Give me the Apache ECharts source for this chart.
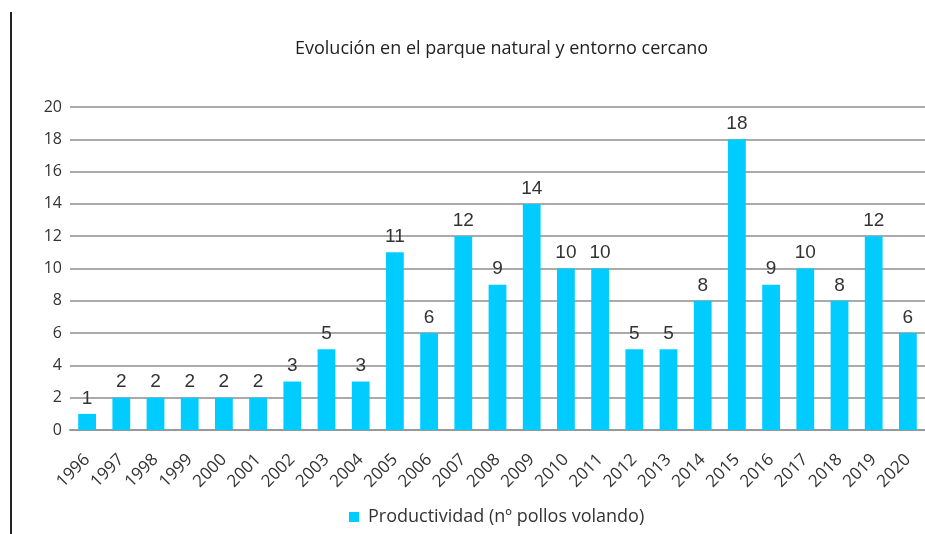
<!DOCTYPE html>
<html>
<head>
<meta charset="utf-8">
<script src="https://cdn.jsdelivr.net/npm/echarts@6/dist/echarts.min.js"></script>
<style>
  html, body { margin: 0; padding: 0; background: #fff; }
  #frame { position: absolute; left: 10px; top: 12px; width: 2px; height: 522px; background: #222; }
  #chart { width: 925px; height: 534px; }
</style>
</head>
<body>
<div id="frame"></div>
<div id="chart"></div>
<script>
var years = ['1996', '1997', '1998', '1999', '2000', '2001', '2002', '2003', '2004', '2005',
  '2006', '2007', '2008', '2009', '2010', '2011', '2012', '2013', '2014', '2015',
  '2016', '2017', '2018', '2019', '2020']
var pollos = [1, 2, 2, 2, 2, 2, 3, 5, 3, 11, 6, 12, 9, 14, 10, 10, 5, 5, 8, 18, 9, 10, 8, 12, 6]
var seriesName = 'Productividad (nº pollos volando)'
var chartTitle = 'Evolución en el parque natural y entorno cercano'

var myChart = echarts.init(document.getElementById('chart'))
var option = {
  animation: false,
  title: {
    text: chartTitle,
    left: 290,
    top: 35,
    textStyle: {
      fontFamily: 'Open Sans',
      fontSize: 18,
      fontWeight: 'normal',
      color: '#222'
    }
  },
  legend: {
    bottom: 3,
    left: 344,
    itemWidth: 10,
    itemHeight: 10,
    icon: 'rect',
    textStyle: {
      fontFamily: 'Open Sans',
      fontSize: 18,
      color: '#333',
      padding: [0, 0, 0, 4]
    },
    data: [seriesName]
  },
  grid: {
    left: 70,
    right: 0,
    top: 107,
    bottom: 104
  },
  xAxis: {
    type: 'category',
    data: years,
    axisTick: { show: false },
    axisLine: { lineStyle: { color: '#999', width: 2 } },
    axisLabel: {
      rotate: 45,
      interval: 0,
      margin: 27,
      fontFamily: 'Open Sans',
      fontSize: 17,
      color: '#333'
    }
  },
  yAxis: {
    type: 'value',
    min: 0,
    max: 20,
    interval: 2,
    axisLine: { show: false },
    axisTick: { show: false },
    axisLabel: {
      margin: 8,
      fontFamily: 'Open Sans',
      fontSize: 16,
      color: '#333'
    },
    splitLine: { lineStyle: { color: '#aaa', width: 2 } }
  },
  series: [
    {
      name: seriesName,
      type: 'bar',
      data: pollos,
      barWidth: '52%',
      itemStyle: { color: '#00ccff' },
      label: {
        show: true,
        position: 'top',
        distance: 6,
        fontFamily: 'Liberation Sans',
        fontSize: 19,
        color: '#333'
      }
    }
  ]
}
myChart.setOption(option)
</script>
</body>
</html>
